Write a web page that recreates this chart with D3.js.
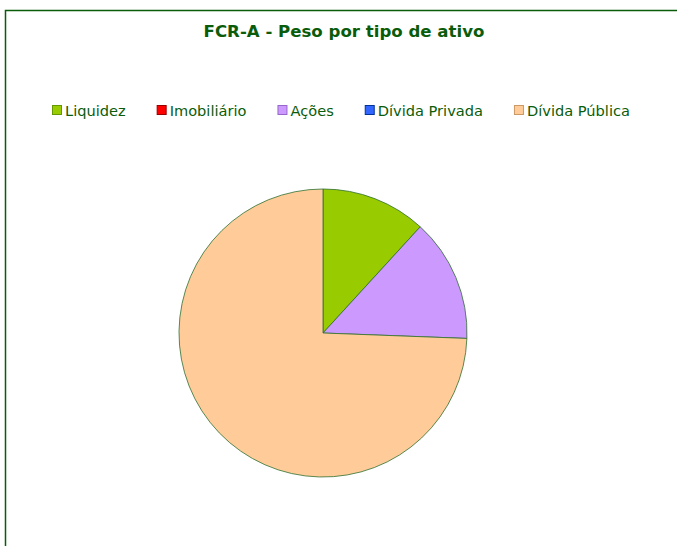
<!DOCTYPE html>
<html><head><meta charset="utf-8">
<script src="https://cdn.jsdelivr.net/npm/d3@7/dist/d3.min.js"></script>
<style>html,body{margin:0;padding:0;background:#fff;overflow:hidden}</style>
</head><body>
<script>
const categories = ["Liquidez", "Imobiliário", "Ações", "Dívida Privada", "Dívida Pública"];
const values = [11.8, 0, 13.8, 0, 74.4];
const colors = ["#99cc00", "#ff0000", "#cc99ff", "#3366ff", "#ffcc99"];
const strokes = ["#669900", "#990000", "#9966cc", "#003399", "#cc9966"];
const title = "FCR-A - Peso por tipo de ativo";

const W = 677, H = 546;
const svg = d3.select("body").append("svg").attr("width", W).attr("height", H);
svg.append("rect").attr("x", 5.5).attr("y", 10.5).attr("width", W + 20).attr("height", H + 20)
  .attr("fill", "#fff").attr("stroke", "#0a5c0a").attr("stroke-width", 1.5);

svg.append("text").attr("x", 344).attr("y", 37).attr("text-anchor", "middle")
  .attr("font-family", "DejaVu Sans, Verdana, sans-serif").attr("font-weight", "bold")
  .attr("font-size", 16.6).attr("fill", "#0a5c0a").text(title);

// legend
const lg = svg.append("g");
let x = 52;
categories.forEach((c, i) => {
  lg.append("rect").attr("x", x + 0.5).attr("y", 105.5).attr("width", 9).attr("height", 9)
    .attr("fill", colors[i]).attr("stroke", strokes[i]).attr("stroke-width", 1);
  const t = lg.append("text").attr("x", x + 13).attr("y", 115.5)
    .attr("font-family", "DejaVu Sans, Verdana, sans-serif").attr("font-size", 14.6)
    .attr("fill", "#0a5c0a").text(c);
  const w = t.node().getComputedTextLength();
  x = x + 13 + w + 31;
});

// pie
const cx = 323, cy = 333, r = 144;
const pie = d3.pie().sort(null).value(d => d)(values);
const arc = d3.arc().innerRadius(0).outerRadius(r);
svg.append("g").attr("transform", `translate(${cx},${cy})`)
  .selectAll("path").data(pie.filter(d => d.value > 0)).join("path")
  .attr("d", arc).attr("fill", d => colors[d.index])
  .attr("stroke", "#2e6e2e").attr("stroke-width", 0.8).attr("stroke-linejoin", "round");
</script>
</body></html>
